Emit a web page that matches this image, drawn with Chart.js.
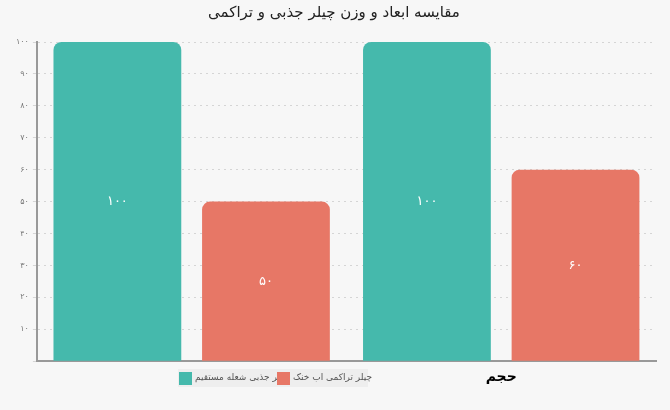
<!DOCTYPE html>
<html>
<head>
<meta charset="utf-8">
<script src="https://cdn.jsdelivr.net/npm/chart.js@4"></script>
<style>
body { margin: 0; background: #f7f7f7; }
#wrap { width: 670px; height: 410px; }
</style>
</head>
<body>
<div id="wrap"><canvas id="c"></canvas></div>
<script>
const categories = ['وزن', 'حجم'];
const seriesNames = ['چیلر جذبی شعله مستقیم', 'چیلر تراکمی اب خنک'];
const absorptionValues = [100, 100];
const compressionValues = [50, 60];
const colors = ['#45b9ac', '#e77766'];

function fa(n) {
    return String(n).replace(/\d/g, d => '۰۱۲۳۴۵۶۷۸۹'[d]);
}

// etiquettes au centre des barres + légende dans la zone des libellés
const extras = {
    id: 'extras',
    afterDatasetsDraw(chart) {
        const ctx = chart.ctx;
        ctx.save();
        ctx.fillStyle = '#fff';
        ctx.font = '13px "DejaVu Sans"';
        ctx.textAlign = 'center';
        ctx.textBaseline = 'middle';
        chart.data.datasets.forEach((ds, i) => {
            chart.getDatasetMeta(i).data.forEach((bar, j) => {
                ctx.fillText(fa(ds.data[j]), bar.x, (bar.y + bar.base) / 2);
            });
        });
        // légende
        const y = 378;
        ctx.fillStyle = '#eeeeee';
        ctx.fillRect(178, y - 9, 190, 18);
        ctx.font = '9px "DejaVu Sans"';
        ctx.textBaseline = 'middle';
        ctx.textAlign = 'left';
        const items = [{x: 179, i: 0}, {x: 277, i: 1}];
        items.forEach(it => {
            ctx.fillStyle = colors[it.i];
            ctx.fillRect(it.x, y - 6, 13, 13);
            ctx.fillStyle = '#555';
            ctx.fillText(seriesNames[it.i], it.x + 16, y);
        });
        ctx.restore();
    }
};

new Chart(document.getElementById('c'), {
    type: 'bar',
    data: {
        labels: categories,
        datasets: [
            { label: seriesNames[0], data: absorptionValues, backgroundColor: colors[0], borderRadius: {topLeft: 8, topRight: 8}, borderSkipped: 'bottom' },
            { label: seriesNames[1], data: compressionValues, backgroundColor: colors[1], borderRadius: {topLeft: 8, topRight: 8}, borderSkipped: 'bottom' }
        ]
    },
    options: {
        responsive: true,
        maintainAspectRatio: false,
        animation: false,
        layout: { padding: { left: 12, right: 14, top: 0, bottom: 16 } },
        datasets: { bar: { categoryPercentage: 0.96, barPercentage: 0.86 } },
        plugins: {
            legend: { display: false },
            tooltip: { enabled: false },
            title: {
                display: true,
                text: 'مقایسه ابعاد و وزن چیلر جذبی و تراکمی',
                color: '#222',
                font: { family: 'DejaVu Sans', size: 15, weight: 'normal' },
                padding: { top: 4, bottom: 20 }
            }
        },
        scales: {
            x: {
                grid: { display: false, drawTicks: false },
                border: { color: '#999', width: 2 },
                ticks: { color: '#000', padding: 8, font: { family: 'DejaVu Sans', size: 14, weight: 'bold' } }
            },
            y: {
                min: 0, max: 100,
                ticks: { stepSize: 10, color: '#777', padding: 4, font: { family: 'DejaVu Sans', size: 8 },
                    callback: v => v === 0 ? '' : fa(v) },
                grid: { color: '#d5d5d5', tickLength: 4 },
                border: { color: '#999', width: 2, dash: [2, 4] }
            }
        }
    },
    plugins: [extras]
});
</script>
</body>
</html>
